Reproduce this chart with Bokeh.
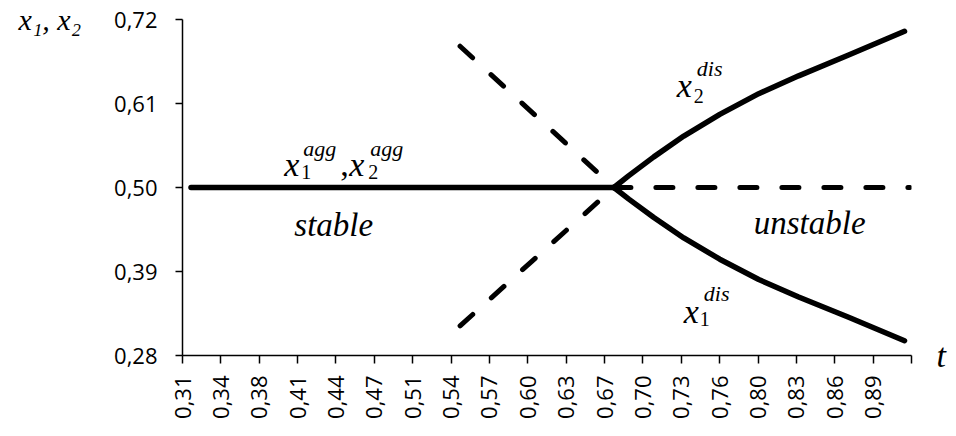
import math
from bokeh.plotting import figure
from bokeh.models import Range1d, FixedTicker, CustomJSTickFormatter, Label, LinearAxis
from bokeh.embed import file_html
from bokeh.resources import INLINE

# ---- data ----
x_tick_labels = ["0,31", "0,34", "0,38", "0,41", "0,44", "0,47", "0,51", "0,54",
                 "0,57", "0,60", "0,63", "0,67", "0,70", "0,73", "0,76", "0,80",
                 "0,83", "0,86", "0,89"]
y_tick_values = [0.28, 0.39, 0.50, 0.61, 0.72]

# agglomeration equilibrium x1 = x2 = 0.5
agg_stable_t = [0.318, 0.6751]
agg_stable_x = [0.50, 0.50]
agg_unstable_t = [0.6751, 0.925]
agg_unstable_x = [0.50, 0.50]

# dispersion equilibrium, unstable part (dashed)
dis_unstable_t = [0.5452, 0.6751]
dis_unstable_x2 = [0.685, 0.50]
dis_unstable_x1 = [0.3188, 0.50]

# dispersion equilibrium, stable part (solid)
dis_stable_t = [0.6751, 0.6877, 0.7088, 0.7341, 0.7645, 0.7974, 0.8311, 0.8733, 0.9205]
dis_stable_x2 = [0.500, 0.5155, 0.5401, 0.5673, 0.5958, 0.6229, 0.6462, 0.6734, 0.7045]
dis_stable_x1 = [0.500, 0.4848, 0.4607, 0.4340, 0.4061, 0.3795, 0.3567, 0.3300, 0.2993]

# axis layout parameters
T0 = 0.3108
DT = 0.0324
N_TICKS = 20

p = figure(width=948, height=428, output_backend="svg", toolbar_location=None,
           x_range=Range1d(T0 - 1e-9, T0 + (N_TICKS - 1) * DT + 1e-9),
           y_range=Range1d(0.28 - 1e-9, 0.72 + 1e-9),
           min_border_left=182, min_border_right=36,
           min_border_top=19, min_border_bottom=73)
p.outline_line_color = None
p.xgrid.visible = False
p.ygrid.visible = False
p.background_fill_color = "white"
p.border_fill_color = "white"

LW = 5.5
DASH = "17 25"
p.line(agg_stable_t, agg_stable_x, line_width=LW, color="black", line_cap="round")
p.line(agg_unstable_t, agg_unstable_x, line_width=5, color="black",
       line_cap="round", line_dash=DASH)
p.line(dis_unstable_t, dis_unstable_x2, line_width=5, color="black",
       line_cap="round", line_dash=DASH)
p.line(dis_unstable_t, dis_unstable_x1, line_width=5, color="black",
       line_cap="round", line_dash=DASH)
p.line(dis_stable_t, dis_stable_x2, line_width=LW, color="black", line_cap="round", line_join="round")
p.line(dis_stable_t, dis_stable_x1, line_width=LW, color="black", line_cap="round", line_join="round")

SERIF = "Liberation Serif"

# ---- axes ----
xa = p.xaxis[0]
xa.ticker = FixedTicker(ticks=[T0 + k * DT for k in range(N_TICKS)], minor_ticks=[])
xa.formatter = CustomJSTickFormatter(args=dict(labels=x_tick_labels, t0=T0, dt=DT), code="""
    const k = Math.round((tick - t0) / dt);
    return (k >= 0 && k < labels.length) ? labels[k] : '';
""")
xa.major_label_orientation = math.pi / 2
xa.major_tick_out = 8
xa.major_tick_in = 0
xa.minor_tick_line_color = None
xa.major_label_standoff = 12

ya = p.yaxis[0]
ya.ticker = FixedTicker(ticks=y_tick_values, minor_ticks=[])
ya.formatter = CustomJSTickFormatter(code="return tick.toFixed(2).replace('.', ',');")
ya.major_tick_out = 7
ya.major_tick_in = 0
ya.minor_tick_line_color = None
ya.major_label_standoff = 18
ya.axis_label = "x\u2081, x\u2082"
ya.axis_label_orientation = "horizontal"
ya.axis_label_align = "end"
ya.axis_label_standoff = 30
ya.axis_label_text_font = SERIF
ya.axis_label_text_font_style = "italic"
ya.axis_label_text_font_size = "30px"
ya.axis_label_text_color = "black"

for ax in (xa, ya):
    ax.axis_line_color = "black"
    ax.axis_line_width = 1.5
    ax.major_tick_line_color = "black"
    ax.major_tick_line_width = 1.5
    ax.major_label_text_font = "Open Sans"
    ax.major_label_text_font_size = "22px"
    ax.major_label_text_color = "black"

# right-hand axis carrying only the "t" title
ra = LinearAxis(ticker=FixedTicker(ticks=[]), axis_line_color=None,
                major_tick_line_color=None, minor_tick_line_color=None,
                axis_label="t", axis_label_orientation="horizontal",
                axis_label_align="start", axis_label_standoff=25,
                axis_label_text_font=SERIF, axis_label_text_font_style="italic",
                axis_label_text_font_size="34px", axis_label_text_color="black")
p.add_layout(ra, "right")


def math_label(x, y, parts):
    for text, dx, dy, size, style in parts:
        p.add_layout(Label(x=x, y=y, x_offset=dx, y_offset=dy, text=text,
                           text_font=SERIF, text_font_style=style,
                           text_font_size=f"{size}px", text_color="black",
                           text_baseline="alphabetic", text_align="left"))


# x1^agg, x2^agg
math_label(0.3968, 0.5298, [("x", 0, 0, 34, "italic"), ("1", 17, -7, 20, "normal"),
                            ("agg", 19, 16, 22, "italic"), (",", 56, 0, 34, "normal"),
                            ("x", 65, 0, 34, "italic"), ("2", 84, -7, 20, "normal"),
                            ("agg", 86, 16, 22, "italic")])
# x2^dis
math_label(0.7282, 0.6333, [("x", 0, 0, 34, "italic"), ("2", 17, -10, 20, "normal"),
                            ("dis", 20, 17, 22, "italic")])
# x1^dis
math_label(0.7341, 0.3382, [("x", 0, 0, 34, "italic"), ("1", 16, -8, 20, "normal"),
                            ("dis", 20, 18, 22, "italic")])

math_label(0.4052, 0.4508, [("stable", 0, 0, 33, "italic")])
math_label(0.7932, 0.4534, [("unstable", 0, 0, 33, "italic")])

open("out.html", "w").write(file_html(p, INLINE))
